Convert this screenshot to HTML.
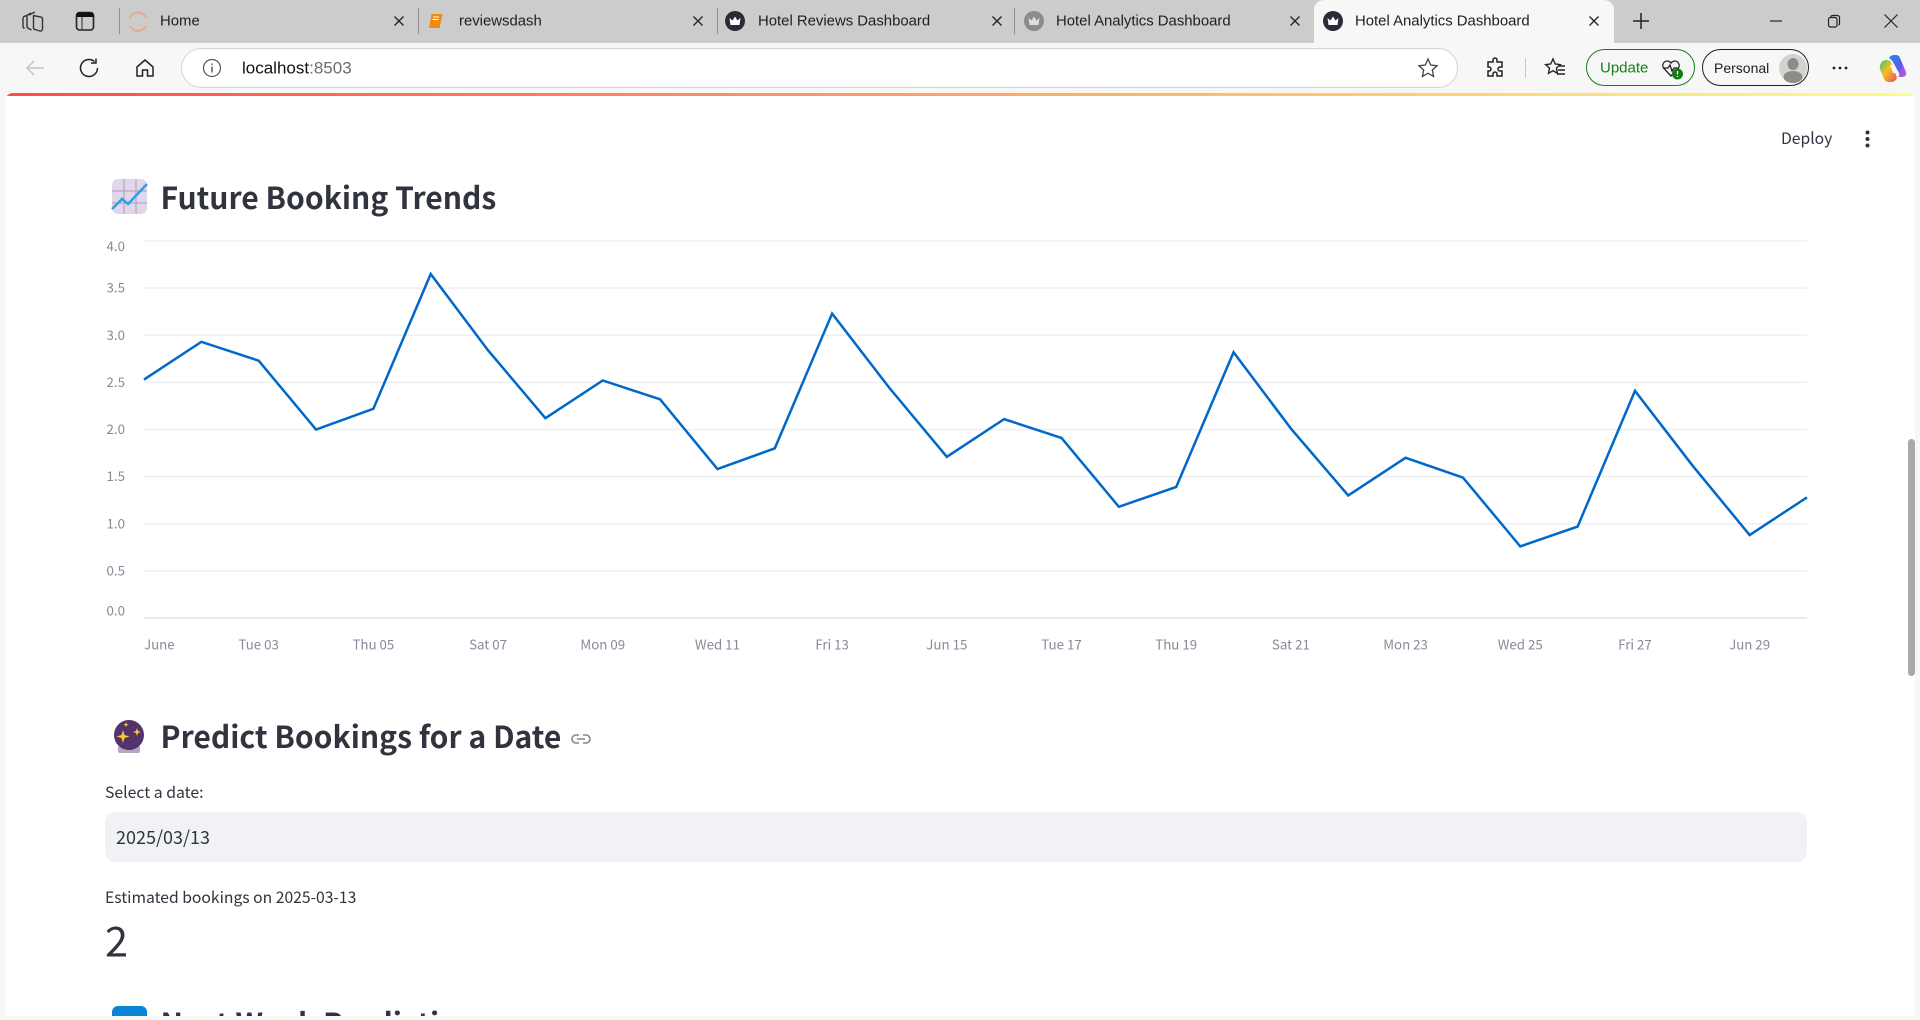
<!DOCTYPE html>
<html lang="en">
<head>
<meta charset="utf-8">
<title>Hotel Analytics Dashboard</title>
<style>
html,body{margin:0;padding:0;width:1920px;height:1020px;overflow:hidden;background:#f7f7f7;}
#root{position:relative;width:1920px;height:1020px;overflow:hidden;background:#f7f7f7;font-family:"Liberation Sans",sans-serif;}
.abs{position:absolute;}
.t{position:absolute;white-space:nowrap;line-height:1;transform:translateY(-50%);}
.ui{font-family:"Liberation Sans",sans-serif;font-size:14.900px;color:#1f1f1f;}
.st{font-family:"Noto Sans CJK SC","Noto Sans CJK JP","Liberation Sans",sans-serif;color:#31333f;}
.h2{font-size:30.100px;font-weight:700;}
svg{position:absolute;overflow:visible;}
.sep{position:absolute;width:1px;height:26px;top:8px;background:#8e8e8e;}
.x{position:absolute;width:18px;height:18px;top:12px;}
</style>
</head>
<body>
<div id="root">
  <div class="abs" style="left:0;top:0;width:1920px;height:43px;background:#cccccc"></div>
  <svg style="left:20px;top:10px" width="26" height="24" viewBox="0 0 26 24"><g fill="none" stroke="#333" stroke-width="1.400"><path d="M13 5.500l8 1.500a2 2 0 0 1 1.500 2v10a2 2 0 0 1-2.500 2l-5-1.500a2 2 0 0 1-1.500-2V8a2 2 0 0 1 1-2.500z" /><path d="M9 5l6-3M6 6l5-3M3 8a3 3 0 0 1 3-2M3 8v8c0 1 .5 2 1.500 2.500M7 5.500V16c0 1 .5 2 1.500 2.500l3 1.500"/></g></svg>
  <svg style="left:74px;top:11px" width="22" height="22" viewBox="0 0 22 22"><rect x="2.500" y="1.500" width="17" height="17.500" rx="3" fill="none" stroke="#222" stroke-width="1.600"/><path d="M2.500 6h17V4.500a3 3 0 0 0-3-3h-11a3 3 0 0 0-3 3z" fill="#111"/><path d="M8 6v13" stroke="#444" stroke-width="1.200"/></svg>
  <div class="sep" style="left:119px"></div>
  <div class="sep" style="left:418px"></div>
  <div class="sep" style="left:717px"></div>
  <div class="sep" style="left:1014px"></div>

  <svg style="left:128px;top:10px" width="20" height="22" viewBox="0 0 20 22"><path d="M2 7.500a9 9 0 0 1 16 0M2 16a9 9 0 0 0 16 0" fill="none" stroke="#e2ac8c" stroke-width="2"/></svg>
  <span class="t ui" style="left:160px;top:22px">Home</span>
  <svg class="x" style="left:390px" viewBox="0 0 18 18"><path d="M4.500 4.500l9 9M13.500 4.500l-9 9" stroke="#222" stroke-width="1.300"/></svg>

  <svg style="left:427px;top:12px" width="18" height="19" viewBox="0 0 18 19"><path d="M4.500 2h11l-3 14H2z" fill="#f08a12"/><path d="M6 5h6M5.500 7.500h6" stroke="#fff" stroke-width="1"/></svg>
  <span class="t ui" style="left:459px;top:22px">reviewsdash</span>
  <svg class="x" style="left:689px" viewBox="0 0 18 18"><path d="M4.500 4.500l9 9M13.500 4.500l-9 9" stroke="#222" stroke-width="1.300"/></svg>

  <svg style="left:725px;top:11px" width="20" height="20" viewBox="0 0 20 20"><circle cx="10" cy="10" r="10" fill="#2a2b36"/><path d="M4.500 7l3 2.500L10 5.500l2.500 4 3-2.500-1 7h-9z" fill="#fff"/></svg>
  <span class="t ui" style="left:758px;top:22px">Hotel Reviews Dashboard</span>
  <svg class="x" style="left:988px" viewBox="0 0 18 18"><path d="M4.500 4.500l9 9M13.500 4.500l-9 9" stroke="#222" stroke-width="1.300"/></svg>

  <svg style="left:1024px;top:11px" width="20" height="20" viewBox="0 0 20 20"><circle cx="10" cy="10" r="10" fill="#8b8b8f"/><path d="M4.500 7l3 2.500L10 5.500l2.500 4 3-2.500-1 7h-9z" fill="#ddd"/></svg>
  <span class="t ui" style="left:1056px;top:22px">Hotel Analytics Dashboard</span>
  <svg class="x" style="left:1286px" viewBox="0 0 18 18"><path d="M4.500 4.500l9 9M13.500 4.500l-9 9" stroke="#222" stroke-width="1.300"/></svg>

  <div class="abs" style="left:1314px;top:0;width:300px;height:43px;background:#f7f7f7;border-radius:10px 10px 0 0"></div>
  <svg style="left:1323px;top:11px" width="20" height="20" viewBox="0 0 20 20"><circle cx="10" cy="10" r="10" fill="#2a2b36"/><path d="M4.500 7l3 2.500L10 5.500l2.500 4 3-2.500-1 7h-9z" fill="#fff"/></svg>
  <span class="t ui" style="left:1355px;top:22px">Hotel Analytics Dashboard</span>
  <svg class="x" style="left:1585px" viewBox="0 0 18 18"><path d="M4.500 4.500l9 9M13.500 4.500l-9 9" stroke="#222" stroke-width="1.300"/></svg>

  <svg style="left:1631px;top:11px" width="20" height="20" viewBox="0 0 20 20"><path d="M10 2v16M2 10h16" stroke="#222" stroke-width="1.500"/></svg>
  <svg style="left:1769px;top:14px" width="14" height="14" viewBox="0 0 14 14"><path d="M1 7h12" stroke="#222" stroke-width="1.200"/></svg>
  <svg style="left:1827px;top:14px" width="14" height="14" viewBox="0 0 14 14"><rect x="1.500" y="3.500" width="8.500" height="9.500" rx="2" fill="none" stroke="#222" stroke-width="1.200"/><path d="M4 3.500V2.500a1.500 1.500 0 0 1 1.500-1h5a2 2 0 0 1 2 2v6a1.500 1.500 0 0 1-1 1.500" fill="none" stroke="#222" stroke-width="1.200"/></svg>
  <svg style="left:1883px;top:13px" width="16" height="16" viewBox="0 0 16 16"><path d="M1.500 1.500l13 13M14.500 1.500l-13 13" stroke="#222" stroke-width="1.200"/></svg>

  <svg style="left:24px;top:57px" width="22" height="22" viewBox="0 0 22 22"><path d="M20 11H3M10 4l-7 7 7 7" fill="none" stroke="#c4c4c4" stroke-width="1.500"/></svg>
  <svg style="left:79px;top:57px" width="22" height="22" viewBox="0 0 22 22"><path d="M18.500 11a8.500 8.500 0 1 1-3-6.500" fill="none" stroke="#222" stroke-width="1.500"/><path d="M17 1.500v4.500h-5" fill="none" stroke="#222" stroke-width="1.500"/></svg>
  <svg style="left:134px;top:57px" width="22" height="22" viewBox="0 0 22 22"><path d="M3 10l8-7 8 7v9h-5.500v-6h-5v6H3z" fill="none" stroke="#222" stroke-width="1.500"/></svg>
  <div class="abs" style="left:181px;top:48px;width:1275px;height:38px;background:#fff;border:1px solid #d4d4d4;border-radius:20px"></div>
  <svg style="left:202px;top:58px" width="20" height="20" viewBox="0 0 20 20"><circle cx="10" cy="10" r="8.500" fill="none" stroke="#555" stroke-width="1.200"/><path d="M10 8.500v6M10 5.500v1.500" stroke="#555" stroke-width="1.400"/></svg>
  <span class="t ui" style="left:242px;top:68px;font-size:17px;color:#111">localhost<span style="color:#6d6d6d">:8503</span></span>
  <svg style="left:1417px;top:57px" width="22" height="22" viewBox="0 0 22 22"><path d="M11 2l2.700 6 6.300.7-4.700 4.300 1.300 6.500L11 16.200 5.400 19.500 6.700 13 2 8.700 8.300 8z" fill="none" stroke="#444" stroke-width="1.300"/></svg>
  <svg style="left:1484px;top:57px" width="22" height="22" viewBox="0 0 22 22"><path d="M9 3a2 2 0 0 1 4 0v2h5v5h-2a2 2 0 0 0 0 4h2v5h-5v-2a2 2 0 0 0-4 0v2H4v-5h1a2 2 0 0 0 0-4H4V5h5z" fill="none" stroke="#222" stroke-width="1.500"/></svg>
  <div class="abs" style="left:1525px;top:58px;width:1px;height:20px;background:#c8c8c8"></div>
  <svg style="left:1544px;top:57px" width="22" height="22" viewBox="0 0 22 22"><path d="M9 2l2.200 5 5 .6-3.800 3.500 1 5.200L9 13.700 4.500 16.300l1-5.200L1.700 7.600l5-.6z" fill="none" stroke="#222" stroke-width="1.400"/><path d="M15 9h6M14 13h7M13 17h8" stroke="#222" stroke-width="1.400"/></svg>
  <div class="abs" style="left:1586px;top:49px;width:107px;height:35px;border:1px solid #1b7d1b;border-radius:19px"></div>
  <span class="t ui" style="left:1600px;top:68px;color:#12801a;font-size:15px">Update</span>
  <svg style="left:1660px;top:57px" width="24" height="24" viewBox="0 0 24 24"><path d="M11 19L3.500 11a4.500 4.500 0 0 1 7.500-5 4.500 4.500 0 0 1 7.500 5L11 19zM3 11h5l2-3 2 6 2-3h4" fill="none" stroke="#222" stroke-width="1.300"/><circle cx="17.500" cy="17" r="5.500" fill="#127b12"/><path d="M17.500 14v3.500M17.500 19v1" stroke="#fff" stroke-width="1.300"/></svg>
  <div class="abs" style="left:1702px;top:49px;width:105px;height:35px;border:1.500px solid #1f1f1f;border-radius:19px"></div>
  <span class="t ui" style="left:1714px;top:68px;font-size:14px">Personal</span>
  <svg style="left:1779px;top:54px" width="28" height="28" viewBox="0 0 28 28"><circle cx="14" cy="14" r="14" fill="#d2d2ce"/><ellipse cx="14" cy="10" rx="5.500" ry="6" fill="#8c8c88"/><ellipse cx="14" cy="23" rx="9.500" ry="6" fill="#8c8c88"/></svg>
  <svg style="left:1830px;top:58px" width="20" height="20" viewBox="0 0 20 20"><circle cx="4" cy="10" r="1.400" fill="#222"/><circle cx="10" cy="10" r="1.400" fill="#222"/><circle cx="16" cy="10" r="1.400" fill="#222"/></svg>
  <svg style="left:1879px;top:55px" width="28" height="27" viewBox="0 0 28 27"><defs><linearGradient id="cpa" x1="0" y1="0" x2="1" y2="1"><stop offset="0" stop-color="#1a8fe8"/><stop offset=".55" stop-color="#5b5be8"/><stop offset="1" stop-color="#d35ae0"/></linearGradient><linearGradient id="cpb" x1="0" y1="0" x2="1" y2="1"><stop offset="0" stop-color="#3ec26a"/><stop offset=".45" stop-color="#f5c023"/><stop offset="1" stop-color="#ee4a5f"/></linearGradient></defs><path d="M10 3c1-2 3-3 5-3h2c2 0 3 1 4 3l6 14c1 3-1 5-4 5h-5c2 0 3-2 2-4L14 7c-1-2-3-3-4-4z" fill="url(#cpa)"/><path d="M7 5c3 0 5 1 6 4l5 14c-1 2-3 4-5 4h-3c-2 0-4-1-5-3L1 14C0 10 3 5 7 5z" fill="url(#cpb)"/><path d="M11 10h3l3 8h-3z" fill="#f7f7f7"/></svg>

  <div class="abs" id="page" style="left:5px;top:93px;width:1910px;height:923px;background:#fff;border-radius:8px 8px 0 0;overflow:hidden">
    <div class="abs" style="left:0;top:0;width:1910px;height:3px;background:linear-gradient(90deg,#ff4b4b,#fffd80)"></div>
    <div class="abs" style="left:1903px;top:346px;width:7px;height:237px;border-radius:4px;background:#a9a9ad"></div>
    <svg style="left:107px;top:913px" width="35" height="30" viewBox="0 0 35 30"><rect width="35" height="30" rx="6" fill="#0a84d6"/></svg>
    <span class="t st h2" style="left:155.500px;top:929px">Next Week Predictions</span>
  </div>

  <span class="t st" style="left:1781px;top:138px;font-size:15.700px">Deploy</span>
  <svg style="left:1858px;top:128px" width="20" height="22" viewBox="0 0 20 22"><circle cx="9.500" cy="4.500" r="2" fill="#31333f"/><circle cx="9.500" cy="11" r="2" fill="#31333f"/><circle cx="9.500" cy="17.500" r="2" fill="#31333f"/></svg>

  <svg style="left:112px;top:179px" width="35" height="35" viewBox="0 0 35 35"><rect width="35" height="35" rx="6" fill="#e0d8ea"/><path d="M12 0v35M24 0v35M0 12h35M0 24h35" stroke="#b7a9c3" stroke-width="1.300"/><path d="M0 30l10-10 6 5L35 5" fill="none" stroke="#2f9fe8" stroke-width="2.500"/></svg>
  <span class="t st h2" style="left:160.500px;top:196px">Future Booking Trends</span>

  <svg id="chart" style="left:0;top:0" width="1920" height="1020" viewBox="0 0 1920 1020"></svg>

  <svg style="left:114px;top:720px" width="30" height="34" viewBox="0 0 30 34"><rect x="4" y="26" width="22" height="7" rx="2" fill="#b5a6bf"/><circle cx="15" cy="15" r="15" fill="#54326b"/><path d="M9 10l1.500 5 5 1.500-5 1.500L9 23l-1.500-5-5-1.500 5-1.500zM23 8l1 3 3 1-3 1-1 3-1-3-3-1 3-1zM12 2l.7 2 2 .7-2 .7-.7 2-.7-2-2-.7 2-.7z" fill="#f9c935"/></svg>
  <span class="t st h2" style="left:160.500px;top:735px">Predict Bookings for a Date</span>
  <svg style="left:570px;top:730px" width="22" height="18" viewBox="0 0 22 18"><path d="M9 5H6a4 4 0 0 0 0 8h3M13 5h3a4 4 0 0 1 0 8h-3M7 9h8" fill="none" stroke="#85878f" stroke-width="1.600"/></svg>
  <span class="t st" style="left:105px;top:792px;font-size:15.800px">Select a date:</span>
  <div class="abs" style="left:105px;top:812px;width:1702px;height:50px;background:#f0f2f6;border-radius:10px"></div>
  <span class="t st" style="left:116px;top:837px;font-size:18px">2025/03/13</span>
  <span class="t st" style="left:105px;top:897px;font-size:15.700px">Estimated bookings on 2025-03-13</span>
  <span class="t st" style="left:105px;top:939px;font-size:41.500px">2</span>
</div>
<script>
const categories = [1,2,3,4,5,6,7,8,9,10,11,12,13,14,15,16,17,18,19,20,21,22,23,24,25,26,27,28,29,30];
const bookings = [2.53,2.93,2.73,2.00,2.22,3.65,2.84,2.12,2.52,2.32,1.58,1.80,3.23,2.44,1.71,2.11,1.91,1.18,1.39,2.82,2.01,1.30,1.70,1.49,0.76,0.97,2.41,1.62,0.88,1.28];
const yTicks = [0,0.5,1,1.5,2,2.5,3,3.5,4];
const xTickDays = [1,3,5,7,9,11,13,15,17,19,21,23,25,27,29];
const xTickLabels = ["June","Tue 03","Thu 05","Sat 07","Mon 09","Wed 11","Fri 13","Jun 15","Tue 17","Thu 19","Sat 21","Mon 23","Wed 25","Fri 27","Jun 29"];

const NS = 'http://www.w3.org/2000/svg';
const svg = document.getElementById('chart');
const plot = {left:144, right:1807, top:241, bottom:618};
const xDomain = [categories[0], categories[categories.length - 1]];
const yDomain = [yTicks[0], yTicks[yTicks.length - 1]];
function xScale(v){ return plot.left + (v - xDomain[0]) / (xDomain[1] - xDomain[0]) * (plot.right - plot.left); }
function yScale(v){ return plot.bottom - (v - yDomain[0]) / (yDomain[1] - yDomain[0]) * (plot.bottom - plot.top); }
const tickFont = '"Noto Sans CJK SC","Noto Sans CJK JP","Liberation Sans",sans-serif';

yTicks.forEach(function(t, i){
  const line = document.createElementNS(NS, 'line');
  
  
  line.setAttribute('x1', plot.left);
  line.setAttribute('x2', plot.right);
  line.setAttribute('y1', yScale(t));
  line.setAttribute('y2', yScale(t));
  line.setAttribute('stroke', i === 0 ? '#e4e4f0' : '#edeff5');
  line.setAttribute('stroke-width', '1.400');
  svg.appendChild(line);
  const label = document.createElementNS(NS, 'text');
  
  
  const flush = i === 0 ? -7 : (i === yTicks.length - 1 ? 5.500 : 0);
  label.setAttribute('x', 125);
  label.setAttribute('y', yScale(t) + flush + 4.500);
  label.setAttribute('text-anchor', 'end');
  label.setAttribute('font-family', tickFont);
  label.setAttribute('font-size', '13.300');
  label.setAttribute('fill', '#878a99');
  label.textContent = t.toFixed(1);
  svg.appendChild(label);
});

xTickDays.forEach(function(d, i){
  const label = document.createElementNS(NS, 'text');
  
  
  label.setAttribute('x', xScale(d));
  label.setAttribute('y', 649.500);
  label.setAttribute('text-anchor', i === 0 ? 'start' : 'middle');
  label.setAttribute('font-family', tickFont);
  label.setAttribute('font-size', '13.300');
  label.setAttribute('fill', '#878a99');
  label.textContent = xTickLabels[i];
  svg.appendChild(label);
});

const series = document.createElementNS(NS, 'polyline');


series.setAttribute('points', categories.map(function(d, i){ return xScale(d).toFixed(2) + ',' + yScale(bookings[i]).toFixed(2); }).join(' '));
series.setAttribute('fill', 'none');
series.setAttribute('stroke', '#0068c9');
series.setAttribute('stroke-width', '2.500');
series.setAttribute('stroke-linejoin', 'miter');
svg.appendChild(series);
</script>
</body>
</html>
